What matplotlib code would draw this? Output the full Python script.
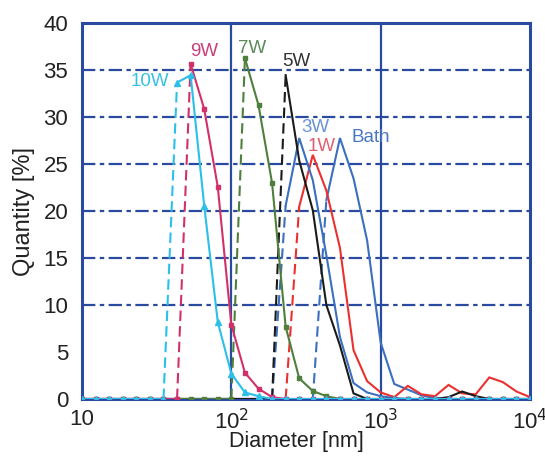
import numpy as np
import matplotlib
matplotlib.use("Agg")
import matplotlib.pyplot as plt

plt.rcParams['font.family'] = ['Liberation Sans', 'DejaVu Sans']

# particle size bins [nm] (log spaced, 11 per decade)
diam = np.array([10.0, 12.33, 15.20, 18.74, 23.10, 28.48, 35.11, 43.29, 53.37, 65.79, 81.11,
                 100.0, 123.3, 152.0, 187.4, 231.0, 284.8, 351.1, 432.9, 533.7, 657.9, 811.1,
                 1000.0, 1233, 1520, 1874, 2310, 2848, 3511, 4329, 5337, 6579, 8111, 10000])

# quantity [%] per bin
q_10w = [0, 0, 0, 0, 0, 0, 0, 33.7, 34.5, 20.6, 8.2, 2.7, 0.7, 0.3, 0, 0, 0,
         0, 0, 0, 0, 0, 0, 0, 0, 0, 0, 0, 0, 0, 0, 0, 0, 0]
q_9w = [0, 0, 0, 0, 0, 0, 0, 0, 35.7, 30.9, 22.6, 7.9, 2.8, 1.1, 0.2, 0, 0,
        0, 0, 0, 0, 0, 0, 0, 0, 0, 0, 0, 0, 0, 0, 0, 0, 0]
q_7w = [0, 0, 0, 0, 0, 0, 0, 0, 0, 0, 0, 0, 36.3, 31.3, 23.0, 7.7, 2.2,
        0.85, 0.3, 0, 0, 0, 0, 0, 0, 0, 0, 0, 0, 0, 0, 0, 0, 0]
q_5w = [0, 0, 0, 0, 0, 0, 0, 0, 0, 0, 0, 0, 0, 0, 0, 34.5, 25.4,
        20.1, 10.0, 5.7, 0.6, 0, 0, 0, 0, 0, 0, 0.2, 0.8, 0.3, 0, 0, 0, 0]
q_3w = [0, 0, 0, 0, 0, 0, 0, 0, 0, 0, 0, 0, 0, 0, 0, 20.6, 27.8,
        23.3, 15.3, 6.6, 1.7, 0.7, 0.3, 0.1, 0, 0, 0, 0, 0, 0, 0, 0, 0, 0]
q_1w = [0, 0, 0, 0, 0, 0, 0, 0, 0, 0, 0, 0, 0, 0, 0, 0, 20.5,
        26.0, 22.2, 16.1, 5.2, 1.9, 0.7, 0.2, 1.4, 0.5, 0.3, 1.5, 0.6, 0.5, 2.3, 1.8, 0.8, 0.2]
q_bath = [0, 0, 0, 0, 0, 0, 0, 0, 0, 0, 0, 0, 0, 0, 0, 0, 0,
          0, 21.2, 27.8, 23.5, 16.9, 6.0, 1.6, 1.0, 0.4, 0.1, 0, 0, 0, 0, 0, 0, 0]

frame = '#2a4a9f'

fig = plt.figure(figsize=(5.45, 4.57), dpi=100)
ax = fig.add_axes([0.1505, 0.1269, 0.822, 0.8217])


def draw(y, color, marker=None, ms=3, zorder=3):
    # steep rising jumps look dashed in the original
    y = np.asarray(y, dtype=float)
    steep = np.diff(y) > 15
    start = 0
    n = len(steep)
    for i in range(1, n + 1):
        if i == n or steep[i] != steep[start]:
            ls = (0, (5, 2.5)) if steep[start] else '-'
            ax.plot(diam[start:i + 1], y[start:i + 1], color=color, lw=1.5,
                    ls=ls, zorder=zorder, solid_joinstyle='miter')
            start = i
    if marker:
        ax.plot(diam, y, ls='none', marker=marker, ms=ms, color=color,
                mec=color, zorder=zorder)


# grid
for v in [10, 15, 20, 25, 30, 35]:
    ax.axhline(v, color=frame, lw=1.6, ls=(0, (6, 2, 2, 2)), zorder=1)
for v in [100, 1000]:
    ax.axvline(v, color=frame, lw=1.6, zorder=1)

draw(q_bath, '#3b6fbf')
draw(q_1w, '#ec2f2f')
draw(q_3w, '#3b6fbf')
draw(q_5w, '#1a1a1a')
draw(q_7w, '#4f7f3c', marker='s', ms=3)
draw(q_9w, '#d2306a', marker='s', ms=2.5)
draw(q_10w, '#2bbfea', marker='^', ms=4.5, zorder=4)

# curve labels
ax.text(28.5, 33.8, '10W', color='#38c0e4', fontsize=13.5, ha='center', va='center')
ax.text(65.5, 37.0, '9W', color='#c8407a', fontsize=13.5, ha='center', va='center')
ax.text(137, 37.3, '7W', color='#5a8a5a', fontsize=13.5, ha='center', va='center')
ax.text(274, 35.9, '5W', color='#333333', fontsize=13.5, ha='center', va='center')
ax.text(367, 28.9, '3W', color='#6a94d4', fontsize=13.5, ha='center', va='center')
ax.text(403, 26.9, '1W', color='#e06070', fontsize=13.5, ha='center', va='center')
ax.text(857, 27.9, 'Bath', color='#4a78c0', fontsize=13.5, ha='center', va='center')

ax.set_xscale('log')
ax.set_xlim(10, 1e4)
ax.set_ylim(0, 40)
ax.set_xticks([10, 100, 1000, 10000])
ax.set_xticklabels(['10', '10$^2$', '10$^3$', '10$^4$'])
ax.set_yticks(range(0, 41, 5))
ax.minorticks_off()
ax.tick_params(axis='both', length=0, labelsize=16, colors='#222222')
ax.tick_params(axis='y', pad=10)
ax.tick_params(axis='x', pad=7)

for s in ax.spines.values():
    s.set_color(frame)
    s.set_linewidth(2.2)

ax.set_xlabel('Diameter [nm]', fontsize=15.5, color='#222222')
ax.xaxis.set_label_coords(0.478, -0.085)
ax.set_ylabel('Quantity [%]', fontsize=17, color='#222222', labelpad=6)

plt.savefig('out.png', dpi=100)
